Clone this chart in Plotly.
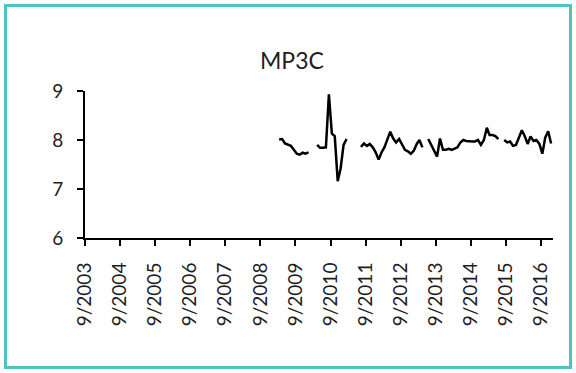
import pandas as pd
import plotly.graph_objects as go

# Monthly MP3C readings, March 2009 - December 2016 (None = no measurement)
start_month = "2009-03"
mp3c = [
    # 2009-03 .. 2010-01
    8.01, 8.02, 7.93, 7.90, 7.88, 7.80, 7.72, 7.70, 7.74, 7.72, 7.75,
    None, None,
    # 2010-04 .. 2011-02
    7.90, 7.84, 7.84, 7.85, 8.93, 8.13, 8.08, 7.16, 7.42, 7.90, 8.02,
    None, None, None, None,
    # 2011-07 .. 2013-04
    7.86, 7.93, 7.88, 7.92, 7.85, 7.75, 7.60, 7.75, 7.85, 8.02, 8.17,
    8.03, 7.95, 8.02, 7.90, 7.80, 7.77, 7.72, 7.78, 7.92, 8.00, 7.85,
    None,
    # 2013-06 .. 2015-06
    8.02, 7.90, 7.77, 7.66, 8.03, 7.80, 7.80, 7.82, 7.80, 7.82, 7.85,
    7.95, 8.00, 7.98, 7.97, 7.97, 7.97, 8.00, 7.90, 8.00, 8.25, 8.10,
    8.10, 8.08, 8.02,
    None,
    # 2015-08 .. 2016-12
    8.00, 7.95, 7.97, 7.88, 7.90, 8.07, 8.20, 8.08, 7.92, 8.07, 7.98,
    8.00, 7.92, 7.72, 8.05, 8.18, 7.93,
]
# readings are plotted at mid-month
dates = pd.date_range(start_month + "-01", periods=len(mp3c), freq="MS") + pd.Timedelta(days=14)

tick_years = list(range(2003, 2017))
tick_dates = [f"{y}-09-01" for y in tick_years]
tick_text = [f"9/{y}" for y in tick_years]
y_ticks = [6, 7, 8, 9]

W, H = 576, 373
L, R, T, B = 85, 23, 91, 135
pw, ph = W - L - R, H - T - B


def px_x(x):
    return (x - L) / pw


def px_y(y):
    return (H - B - y) / ph


font = "Lato, 'Open Sans', sans-serif"
ink = "#1e1e1e"

fig = go.Figure()
fig.add_trace(go.Scatter(
    x=dates, y=mp3c, mode="lines", connectgaps=False,
    line=dict(color="#000000", width=2.5), hoverinfo="skip",
))

fig.update_layout(
    width=W, height=H,
    margin=dict(l=L, r=R, t=T, b=B),
    paper_bgcolor="white", plot_bgcolor="white",
    showlegend=False,
    font=dict(family=font, color=ink),
    xaxis=dict(
        type="date", range=["2003-09-01", "2017-01-04"],
        tickmode="array", tickvals=tick_dates, ticktext=tick_text,
        tickangle=-90, tickfont=dict(size=19, family=font, color=ink),
        showline=True, linecolor="#000", linewidth=2,
        ticks="outside", ticklen=6, tickwidth=2, tickcolor="#000",
        showgrid=False, zeroline=False, ticklabelstandoff=9,
    ),
    yaxis=dict(
        range=[6, 9], tickmode="array", tickvals=y_ticks,
        tickfont=dict(size=19, family=font, color=ink),
        showline=True, linecolor="#000", linewidth=2,
        ticks="outside", ticklen=6, tickwidth=2, tickcolor="#000",
        showgrid=False, zeroline=False, ticklabelstandoff=10,
    ),
    annotations=[dict(
        text="MP3C", xref="paper", yref="paper",
        x=px_x(292), y=px_y(59.5), xanchor="center", yanchor="middle",
        showarrow=False, font=dict(size=23, family=font, color=ink),
    )],
    shapes=[dict(
        type="rect", xref="paper", yref="paper",
        x0=px_x(5.5), x1=px_x(570.5), y0=px_y(367.5), y1=px_y(5.5),
        line=dict(color="#4ec3bf", width=3), fillcolor="rgba(0,0,0,0)",
        layer="above",
    )],
)

fig.write_html("out.html")
